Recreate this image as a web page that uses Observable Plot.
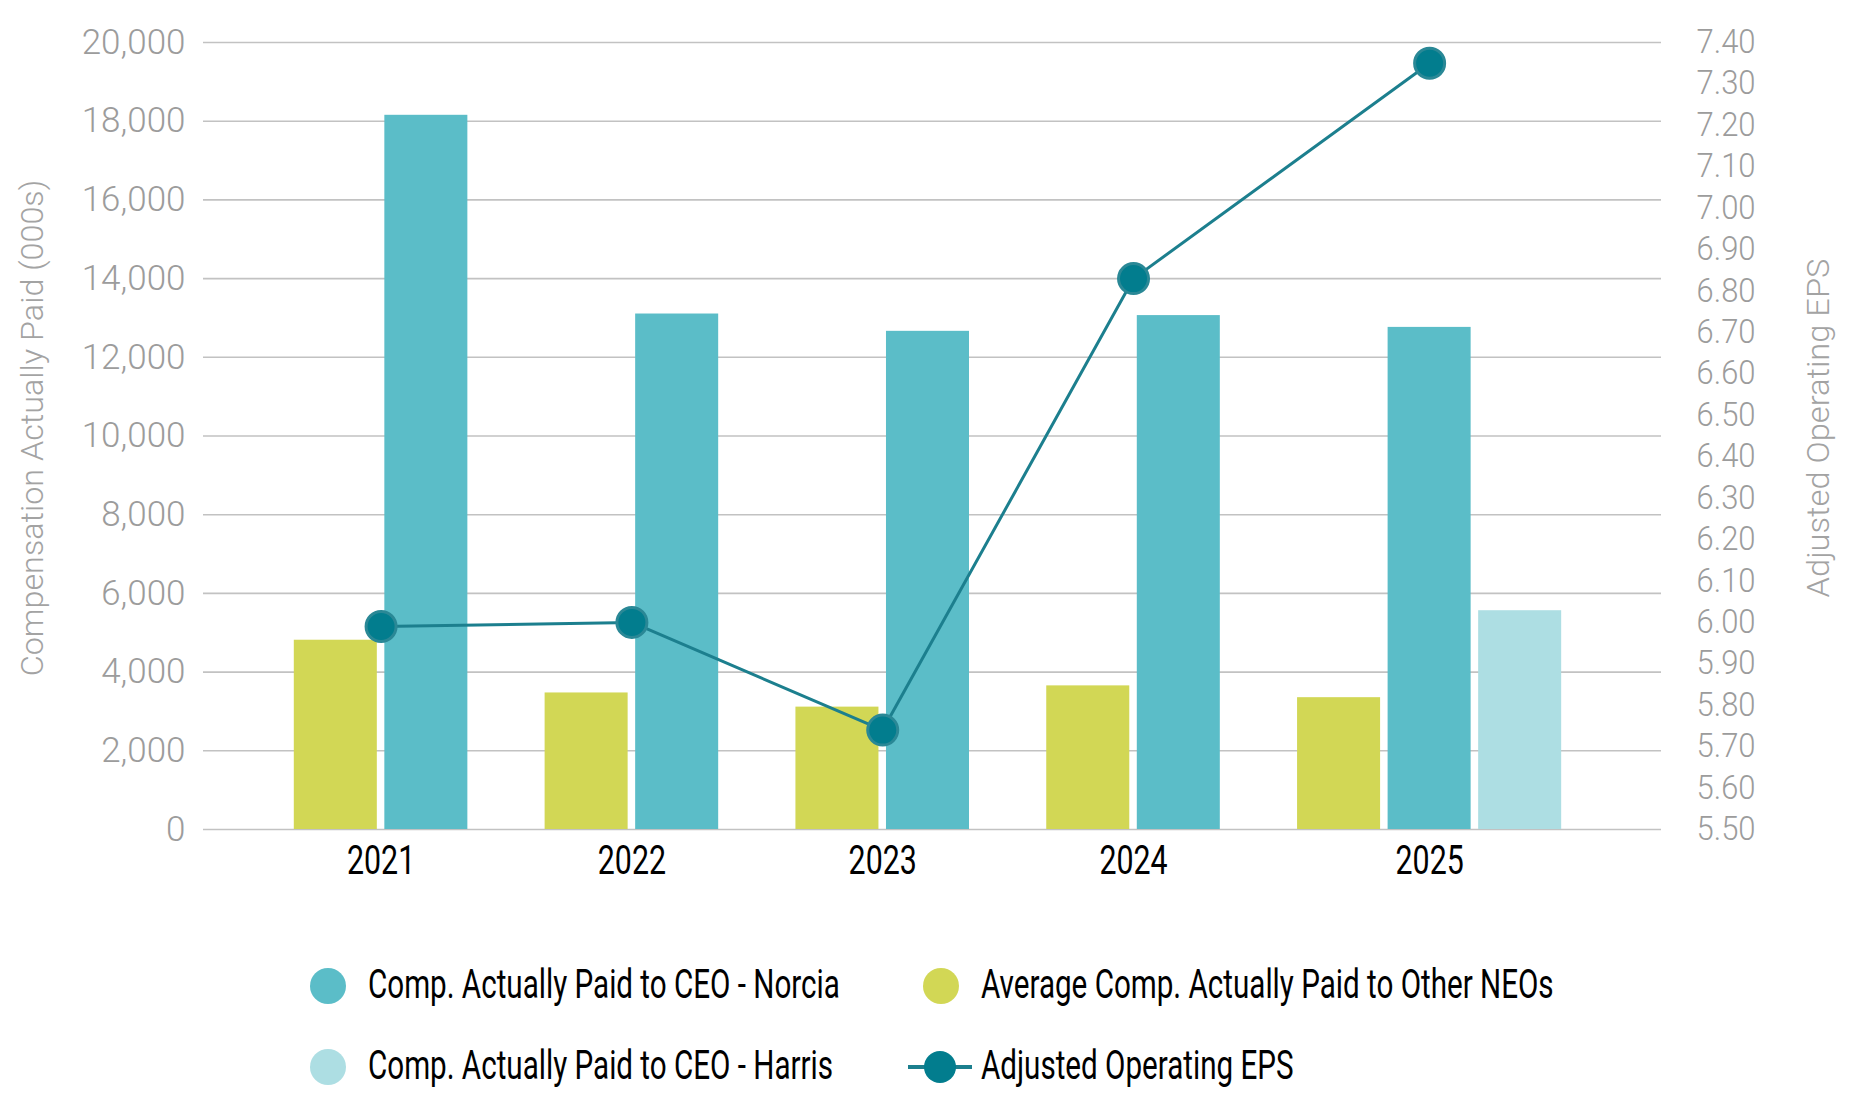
<!DOCTYPE html>
<html>
<head>
<meta charset="utf-8">
<script src="https://cdn.jsdelivr.net/npm/d3@7"></script>
<script src="https://cdn.jsdelivr.net/npm/@observablehq/plot@0.6"></script>
<style>
  html, body { margin: 0; padding: 0; background: #fff; }
  body { width: 1860px; height: 1112px; overflow: hidden; font-family: Roboto, "Liberation Sans", sans-serif; }
  #chart { position: relative; width: 1860px; height: 905px; }
  .atitle { position: absolute; white-space: nowrap; font-size: 32px; font-weight: 300; color: #a3a3a3;
            line-height: 1; }
  #legend { position: relative; width: 1860px; height: 207px; }
  .item { position: absolute; height: 0; }
  .item svg { position: absolute; overflow: visible; }
  .item span { position: absolute; white-space: nowrap; font-size: 40px; color: #000; line-height: 1;
               transform: translateY(-52%) scaleX(0.74); transform-origin: left center; }
</style>
</head>
<body>
<div id="chart"></div>
<div id="legend"></div>
<script>
// ---------- data ----------
const years = [2021, 2022, 2023, 2024, 2025];
const ceoNorcia = [18150, 13100, 12660, 13060, 12760];
const otherNEOs = [4810, 3470, 3110, 3650, 3350];
const ceoHarris = [null, null, null, null, 5560];
const adjEPS = [5.99, 6.00, 5.74, 6.83, 7.35];
const leftTicks = [0, 2000, 4000, 6000, 8000, 10000, 12000, 14000, 16000, 18000, 20000];
const rightTicks = [5.50, 5.60, 5.70, 5.80, 5.90, 6.00, 6.10, 6.20, 6.30, 6.40, 6.50,
                    6.60, 6.70, 6.80, 6.90, 7.00, 7.10, 7.20, 7.30, 7.40];
const seriesNames = ["Average Comp. Actually Paid to Other NEOs", "Comp. Actually Paid to CEO - Norcia", "Comp. Actually Paid to CEO - Harris"];
const seriesSlots = [-1, 0, 1];
const seriesColors = ["#D2D755", "#5BBDC8", "#ADDEE3"];
const epsName = "Adjusted Operating EPS";
const leftTitle = "Compensation Actually Paid (000s)";
const rightTitle = "Adjusted Operating EPS";

// ---------- derived tables ----------
const slotStep = 0.361, barW = 0.331, barGap = 0.015;
const seriesValues = [otherNEOs, ceoNorcia, ceoHarris];
const bars = [];
seriesNames.forEach((name, s) => {
  years.forEach((yr, i) => {
    const v = seriesValues[s][i];
    if (v == null) return;
    const x1 = yr + seriesSlots[s] * slotStep + barGap;
    bars.push({year: yr, series: name, value: v, x1, x2: x1 + barW, color: seriesColors[s]});
  });
});
const labels = years.map(yr => {
  const bs = bars.filter(b => b.year === yr);
  return {year: yr, pos: d3.mean(bs, b => (b.x1 + b.x2) / 2)};
});
const epsMin = rightTicks[0], epsMax = rightTicks[rightTicks.length - 1];
const leftMax = leftTicks[leftTicks.length - 1];
const toLeft = e => (e - epsMin) / (epsMax - epsMin) * leftMax;
const eps = years.map((yr, i) => ({year: yr, x: labels[i].pos, eps: adjEPS[i], y: toLeft(adjEPS[i])}));

const gray = "#9c9c9c";

const chart = Plot.plot({
  width: 1860,
  height: 905,
  marginTop: 42,
  marginBottom: 76,
  marginLeft: 203,
  marginRight: 199,
  style: {fontFamily: "Roboto, sans-serif", background: "#fff", overflow: "visible"},
  x: {domain: [2020.292, 2026.105], axis: null},
  y: {domain: [0, leftMax], axis: null},
  marks: [
    Plot.gridY(leftTicks, {stroke: "#c2c2c2", strokeOpacity: 1, strokeWidth: 1.6}),
    Plot.rect(bars, {x1: "x1", x2: "x2", y1: 0, y2: "value", fill: "color"}),
    Plot.axisY({anchor: "left", ticks: leftTicks, tickSize: 0, tickPadding: 18,
                tickFormat: d3.format(","), fontSize: 35, fill: gray, label: null}),
    Plot.axisY({anchor: "right", ticks: rightTicks.map(toLeft), tickSize: 0, tickPadding: 35,
                tickFormat: d => (epsMin + d / leftMax * (epsMax - epsMin)).toFixed(2),
                fontSize: 33, fill: gray, label: null}),
    Plot.text(labels, {x: "pos", y: 0, text: d => String(d.year), dy: 31, fontSize: 41,
                       fill: "#000", lineAnchor: "middle"}),
    Plot.line(eps, {x: "x", y: "y", stroke: "#1C7F8E", strokeWidth: 3}),
    Plot.dot(eps, {x: "x", y: "y", r: 15, fill: "#027D8E", stroke: "#2A8896", strokeWidth: 3})
  ]
});

const host = document.getElementById("chart");
host.appendChild(chart);

// condense text glyphs (the reference uses a condensed face)
chart.querySelectorAll("text").forEach(t => {
  const s = t.textContent;
  let f = 1;
  if (/^\d{4}$/.test(s)) f = 0.74;
  else if (/^\d\.\d\d$/.test(s)) { f = 0.94; t.setAttribute("font-weight", 300); }
  else if (/^[\d,]+$/.test(s)) { f = 1.0; t.setAttribute("font-weight", 300); }
  if (f !== 1) {
    const L = t.getComputedTextLength();
    t.setAttribute("textLength", L * f);
    t.setAttribute("lengthAdjust", "spacingAndGlyphs");
  }
});

// axis titles (rotated)
function addTitle(text, cx, cy, sx) {
  const d = document.createElement("div");
  d.className = "atitle";
  d.textContent = text;
  host.appendChild(d);
  const w = d.offsetWidth, h = d.offsetHeight;
  d.style.left = (cx - w / 2) + "px";
  d.style.top = (cy - h / 2) + "px";
  d.style.transform = `rotate(-90deg) scaleX(${sx})`;
  d.style.transformOrigin = "center center";
}
addTitle(leftTitle, 32, 428, 1.01);
addTitle(rightTitle, 1818, 428, 1.02);

// ---------- legend ----------
const legendItems = [
  {name: seriesNames[1], color: seriesColors[1], type: "dot", left: 328, top: 81},
  {name: seriesNames[0], color: seriesColors[0], type: "dot", left: 941, top: 81},
  {name: seriesNames[2], color: seriesColors[2], type: "dot", left: 328, top: 162},
  {name: epsName, color: "#027D8E", type: "line", left: 941, top: 162}
];
const legend = document.getElementById("legend");
legendItems.forEach(it => {
  const d = document.createElement("div");
  d.className = "item";
  d.style.left = it.left + "px";
  d.style.top = it.top + "px";
  const sym = it.type === "dot"
    ? `<svg width="40" height="40" style="left:-20px;top:-20px"><circle cx="20" cy="20" r="18" fill="${it.color}"/></svg>`
    : `<svg width="70" height="40" style="left:-35px;top:-20px"><line x1="2" x2="66" y1="20" y2="20" stroke="#1C7F8E" stroke-width="4"/><circle cx="34" cy="20" r="16" fill="${it.color}"/></svg>`;
  d.innerHTML = sym + `<span style="left:40px">${it.name}</span>`;
  legend.appendChild(d);
});
</script>
</body>
</html>
